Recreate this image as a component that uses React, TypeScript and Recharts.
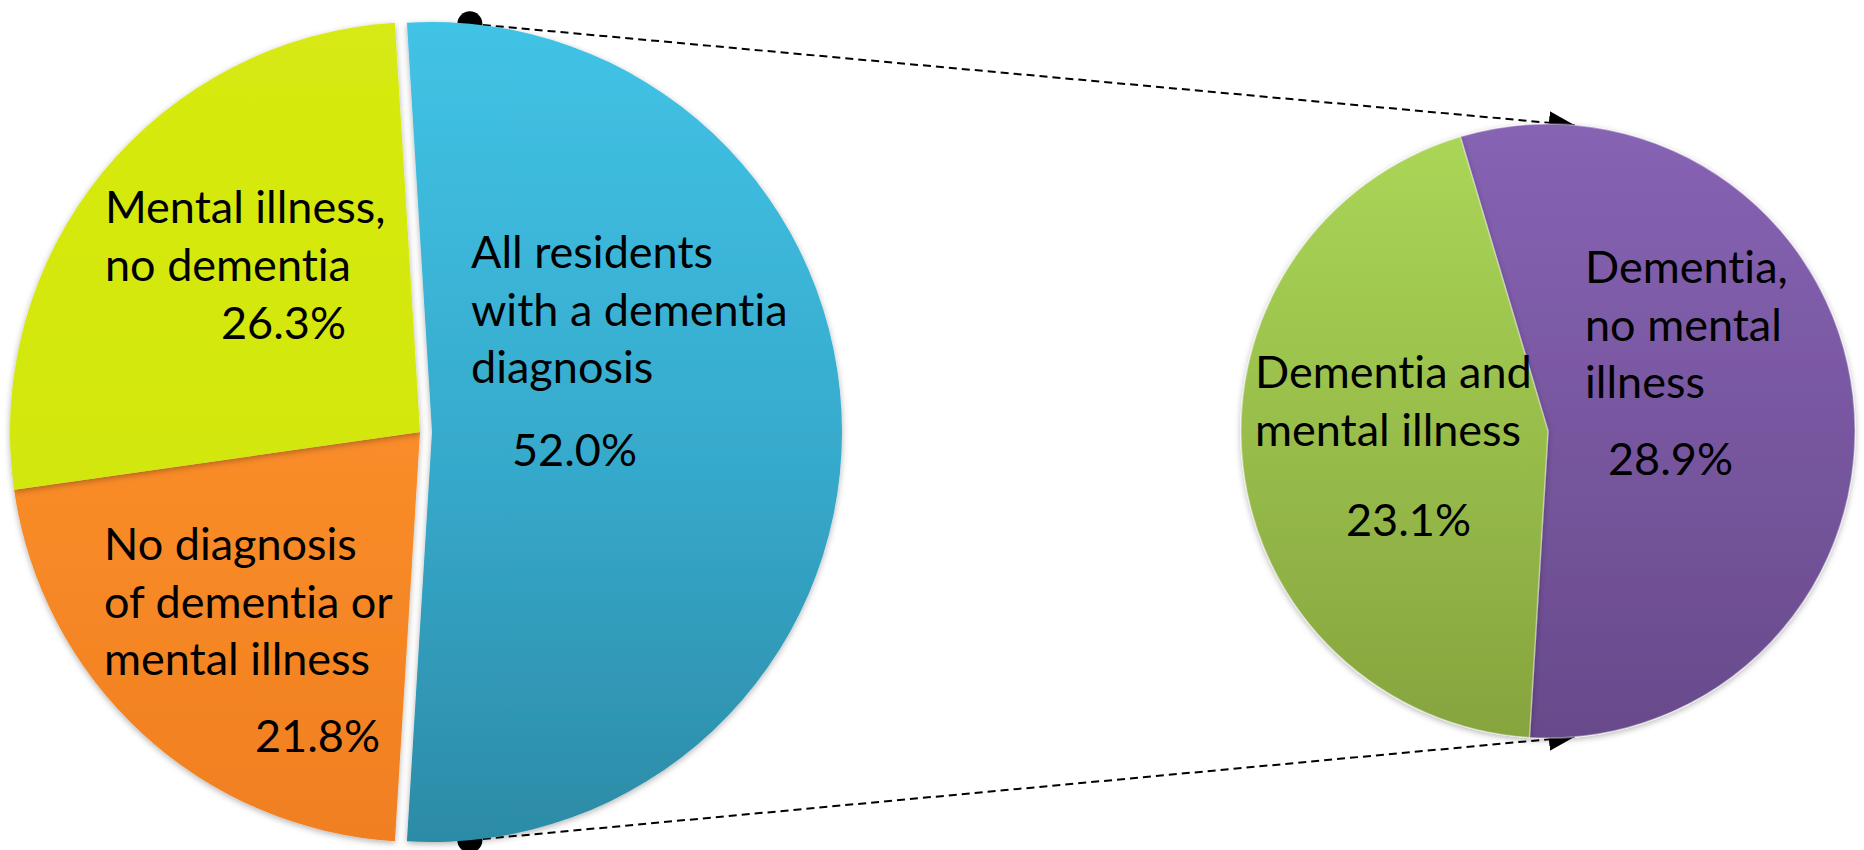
import { PieChart, Pie, Cell } from 'recharts'

// values as printed on the chart (share of all residents, %)
const leftNames = ['All residents with a dementia diagnosis', 'No diagnosis of dementia or mental illness', 'Mental illness, no dementia']
const leftValues = [52.0, 21.8, 26.3]
const leftLines = [
  ['All residents', 'with a dementia', 'diagnosis'],
  ['No diagnosis', 'of dementia or', 'mental illness'],
  ['Mental illness,', 'no dementia'],
]

const rightNames = ['Dementia, no mental illness', 'Dementia and mental illness']
const rightValues = [28.9, 23.1]
const rightLines = [
  ['Dementia,', 'no mental', 'illness'],
  ['Dementia and', 'mental illness'],
]

const leftData = leftNames.map((name, i) => ({ name, value: leftValues[i] }))
const rightData = rightNames.map((name, i) => ({ name, value: rightValues[i] }))

const W = 1864
const H = 850
const LEFT = { cx: 420, cy: 432, r: 410 }
const EXPLODE = 12 // blue slice pulled out to the right
const RIGHT = { cx: 1548, cy: 431, r: 307 }

// left pie: first slice centred on 3 o'clock, drawn clockwise
const leftTotal = leftValues.reduce((a, b) => a + b, 0)
const LEFT_START = (leftValues[0] / leftTotal) * 180
const RIGHT_START = 106.6

const leftFills = ['url(#gBlue)', 'url(#gOrange)', 'url(#gYellow)']
const rightFills = ['url(#gPurple)', 'url(#gGreen)']

const FONT = "Lato, 'Open Sans', sans-serif"
const FONT_SIZE = 45
const LINE_GAP = 57.5
const textStyle = { fontVariantLigatures: 'none', fontFeatureSettings: '"liga" 0, "clig" 0' } as const

// text layout relative to each slice's pie centre: [x, first baseline, pct x, pct baseline]
const leftLabelPos = [
  [39, -164, 80, 34],
  [-316, 128, -165, 320],
  [-315, -209, -199, -93],
]
const rightLabelPos = [
  [37, -148, 60, 44],
  [-293, -43, -202, 105],
]

function SliceLabel({ x0, y0, lines, pctX, pctY, value }: { x0: number; y0: number; lines: string[]; pctX: number; pctY: number; value: number }) {
  return (
    <g>
      <text x={x0} y={y0} fontFamily={FONT} fontSize={FONT_SIZE} fill="#000" style={textStyle}>
        {lines.map((t, k) => (
          <tspan key={k} x={x0} y={y0 + k * LINE_GAP}>{t}</tspan>
        ))}
      </text>
      <text x={pctX} y={pctY} fontFamily={FONT} fontSize={FONT_SIZE} fill="#000" style={textStyle}>
        {value.toFixed(1)}%
      </text>
    </g>
  )
}

const makeLeftLabel = (which: 'blue' | 'rest') => (props: any) => {
  const i = props.index
  if ((which === 'blue') !== (i === 0)) return null
  const cx = LEFT.cx + (i === 0 ? EXPLODE : 0)
  const p = leftLabelPos[i]
  return <SliceLabel x0={cx + p[0]} y0={LEFT.cy + p[1]} lines={leftLines[i]} pctX={cx + p[2]} pctY={LEFT.cy + p[3]} value={leftValues[i]} />
}

const rightLabel = (props: any) => {
  const i = props.index
  const p = rightLabelPos[i]
  return <SliceLabel x0={RIGHT.cx + p[0]} y0={RIGHT.cy + p[1]} lines={rightLines[i]} pctX={RIGHT.cx + p[2]} pctY={RIGHT.cy + p[3]} value={rightValues[i]} />
}

const rad = (d: number) => (d * Math.PI) / 180

function Connectors() {
  const phi = rad(5.3)
  const psi = rad(5)
  const lx = LEFT.cx + EXPLODE + LEFT.r * Math.sin(phi)
  const ly = LEFT.r * Math.cos(phi)
  const rx = RIGHT.cx + RIGHT.r * Math.sin(psi)
  const ry = RIGHT.r * Math.cos(psi)
  return (
    <svg width={W} height={H} style={{ position: 'absolute', left: 0, top: 0 }}>
      <defs>
        <marker id="arrowHead" markerUnits="userSpaceOnUse" markerWidth={28} markerHeight={24} refX={26} refY={11.5} orient="auto">
          <path d="M0,0 L26,11.5 L0,23 z" fill="#000" />
        </marker>
      </defs>
      <line x1={lx} y1={LEFT.cy - ly} x2={rx} y2={RIGHT.cy - ry} stroke="#000" strokeWidth={2} strokeDasharray="8 5" markerEnd="url(#arrowHead)" />
      <line x1={lx} y1={LEFT.cy + ly} x2={rx} y2={RIGHT.cy + ry} stroke="#000" strokeWidth={2} strokeDasharray="8 5" markerEnd="url(#arrowHead)" />
      <circle cx={lx} cy={LEFT.cy - ly} r={12.5} fill="#000" />
      <circle cx={lx} cy={LEFT.cy + ly} r={12.5} fill="#000" />
    </svg>
  )
}

export default function App() {
  return (
    <div style={{ position: 'absolute', left: 0, top: 0, width: W, height: H, background: '#fff' }}>
      <Connectors />
      <div style={{ position: 'absolute', left: 0, top: 0 }}>
        <PieChart width={W} height={H} margin={{ top: 0, right: 0, bottom: 0, left: 0 }}>
          <defs>
            <linearGradient id="gBlue" x1="0" y1="0" x2="0" y2="1">
              <stop offset="0%" stopColor="#41C3E6" />
              <stop offset="55%" stopColor="#36A9CB" />
              <stop offset="100%" stopColor="#2C8BA6" />
            </linearGradient>
            <linearGradient id="gOrange" x1="0" y1="0" x2="0" y2="1">
              <stop offset="0%" stopColor="#FA8D29" />
              <stop offset="100%" stopColor="#F07F20" />
            </linearGradient>
            <linearGradient id="gYellow" x1="0" y1="0" x2="0" y2="1">
              <stop offset="0%" stopColor="#D7EA12" />
              <stop offset="100%" stopColor="#D2E70B" />
            </linearGradient>
            <linearGradient id="gPurple" x1="0" y1="0" x2="0" y2="1">
              <stop offset="0%" stopColor="#8763B4" />
              <stop offset="100%" stopColor="#684A8B" />
            </linearGradient>
            <linearGradient id="gGreen" x1="0" y1="0" x2="0" y2="1">
              <stop offset="0%" stopColor="#AAD657" />
              <stop offset="100%" stopColor="#86A43E" />
            </linearGradient>
            <filter id="softShadow" x="-10%" y="-10%" width="120%" height="120%">
              <feDropShadow dx="0" dy="2" stdDeviation="3" floodColor="#000" floodOpacity="0.3" />
            </filter>
          </defs>
          <Pie
            data={leftData}
            dataKey="value"
            nameKey="name"
            cx={LEFT.cx}
            cy={LEFT.cy}
            outerRadius={LEFT.r}
            startAngle={LEFT_START}
            endAngle={LEFT_START - 360}
            stroke="rgba(255,255,255,0.35)"
            strokeWidth={1.5}
            label={makeLeftLabel('rest')}
            labelLine={false}
            isAnimationActive={false}
          >
            {leftData.map((d, i) => (
              <Cell key={d.name} fill={i === 0 ? 'none' : leftFills[i]} stroke={i === 0 ? 'none' : undefined} filter={i === 0 ? undefined : 'url(#softShadow)'} />
            ))}
          </Pie>
          <Pie
            data={leftData}
            dataKey="value"
            nameKey="name"
            cx={LEFT.cx + EXPLODE}
            cy={LEFT.cy}
            outerRadius={LEFT.r}
            startAngle={LEFT_START}
            endAngle={LEFT_START - 360}
            stroke="rgba(255,255,255,0.35)"
            strokeWidth={1.5}
            label={makeLeftLabel('blue')}
            labelLine={false}
            isAnimationActive={false}
          >
            {leftData.map((d, i) => (
              <Cell key={d.name} fill={i === 0 ? leftFills[0] : 'none'} stroke={i === 0 ? undefined : 'none'} filter={i === 0 ? 'url(#softShadow)' : undefined} />
            ))}
          </Pie>
          <Pie
            data={rightData}
            dataKey="value"
            nameKey="name"
            cx={RIGHT.cx}
            cy={RIGHT.cy}
            outerRadius={RIGHT.r}
            startAngle={RIGHT_START}
            endAngle={RIGHT_START - 360}
            stroke="rgba(255,255,255,0.35)"
            strokeWidth={1.5}
            label={rightLabel}
            labelLine={false}
            isAnimationActive={false}
          >
            {rightData.map((d, i) => (
              <Cell key={d.name} fill={rightFills[i]} filter="url(#softShadow)" />
            ))}
          </Pie>
        </PieChart>
      </div>
    </div>
  )
}
